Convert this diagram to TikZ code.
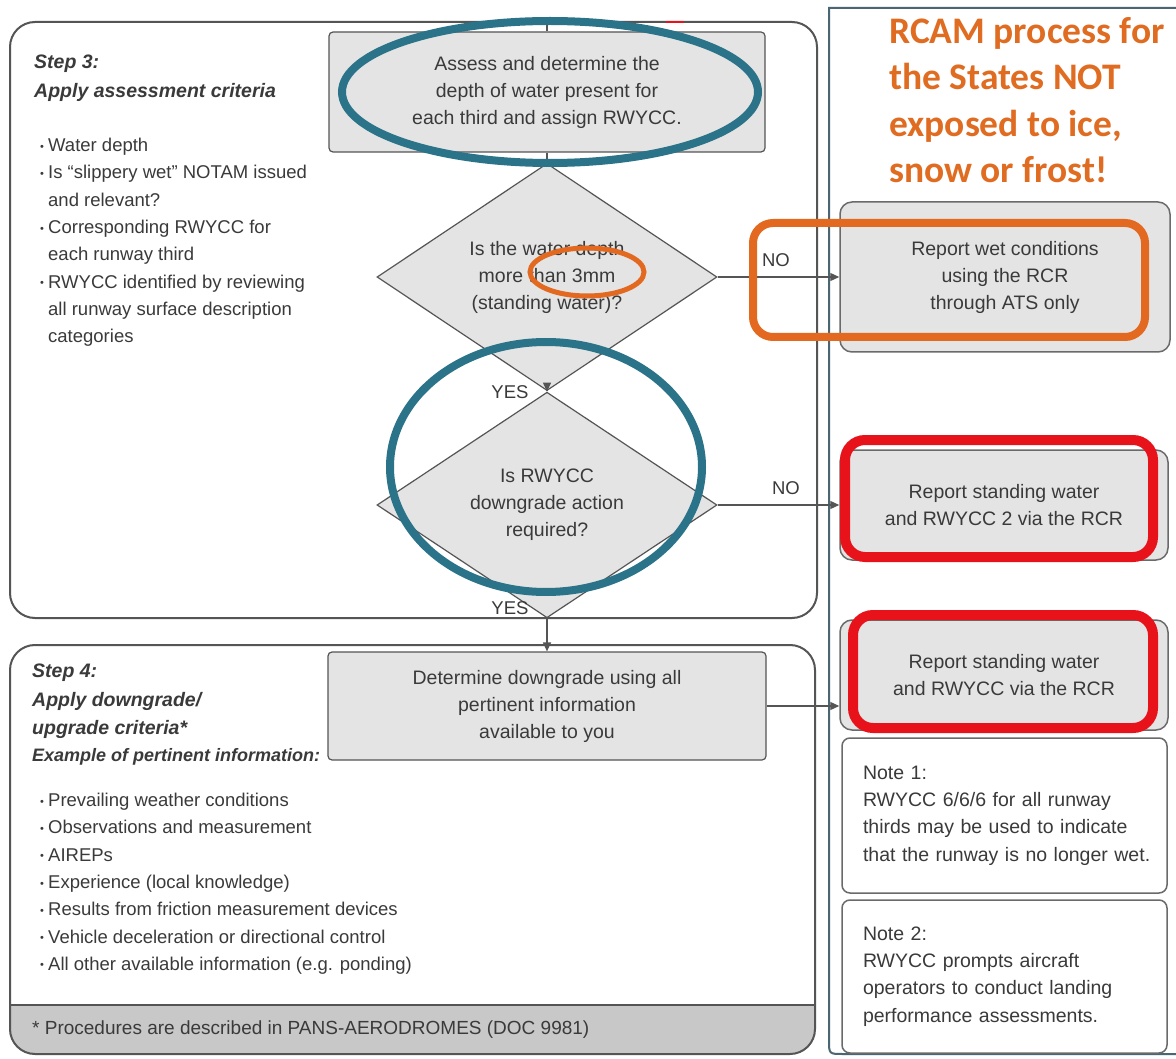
\documentclass[tikz,border=0pt]{standalone}
\usepackage{fontspec}
\usepackage{graphicx}
\setmainfont{Liberation Sans}
\newfontfamily\calfont{Carlito}
\usetikzlibrary{shapes.geometric,arrows.meta}

\definecolor{ink}{HTML}{3A3A3A}
\definecolor{boxfill}{HTML}{E4E4E4}
\definecolor{boxline}{HTML}{555555}
\definecolor{panelline}{HTML}{6A6A6A}
\definecolor{footgray}{HTML}{C8C8C8}
\definecolor{tealmark}{HTML}{2A7388}
\definecolor{orangemark}{HTML}{E2691F}
\definecolor{redmark}{HTML}{E8121B}
\definecolor{framecol}{HTML}{4A6672}
\definecolor{rcamorange}{HTML}{E06C22}

\newcommand\fsz[2]{\fontsize{#1}{#2}\selectfont}
\newcommand\bul{\makebox[7pt][l]{\hspace*{-1pt}\raisebox{1.5pt}{\fontsize{11}{11}\selectfont\textbullet}}}
\newcommand\ind{\hspace*{7pt}}

\begin{document}
\begin{tikzpicture}[x=1pt,y=-1pt,
  proc/.style={draw=boxline, fill=boxfill, line width=1.2pt, rounded corners=4pt,
    text=ink, font=\fsz{19.5}{27}, align=center, inner sep=0pt},
  decision/.style={diamond, draw=boxline, fill=boxfill, line width=1.2pt, text=ink,
    font=\fsz{19.5}{27}, align=center, minimum width=340pt, minimum height=210pt, inner sep=0pt},
  report/.style={draw=panelline, fill=boxfill, line width=1.5pt, rounded corners=12pt,
    text=ink, font=\fsz{19.5}{27}, align=center, minimum width=328pt, inner sep=0pt},
  notebox/.style={draw=panelline, fill=white, line width=1.5pt, rounded corners=8pt,
    text=ink, font=\fsz{19.5}{27.3}, align=left, text width=283pt, inner xsep=21pt, inner ysep=0pt},
  stepbox/.style={draw=boxline, line width=2pt, rounded corners=25pt},
  heading/.style={text=ink, font=\fsz{19.5}{28.5}\bfseries\itshape, align=left, inner sep=0pt, anchor=north west},
  listtext/.style={text=ink, font=\fsz{18.5}{27.3}, align=left, inner sep=0pt, anchor=north west},
  answer/.style={text=ink, font=\fsz{18.5}{20}, inner sep=0pt},
  flow/.style={draw=boxline, line width=1.2pt},
  flowarrow/.style={flow, -{Triangle[length=9pt,width=8pt]}},
  tealring/.style={draw=tealmark, line width=8pt},
  redring/.style={draw=redmark, line width=10pt, rounded corners=20pt},
]
\useasboundingbox (0,0) rectangle (1176,1059);
\fill[white] (0,0) rectangle (1176,1059);

% ---------- right-hand panel frame ----------
\draw[framecol, line width=2pt] (1180,8) -- (829,8) -- (829,1040)
  .. controls (829,1054) .. (843,1054) -- (1180,1054);

% ---------- Step 3 frame ----------
\draw[stepbox] (10,22) rectangle (817,618);
\draw[redmark, line width=2.5pt] (666,22) -- (684,22);

% ---------- Step 4 frame with footer band ----------
\path[fill=footgray] (10,1005) -- (815,1005) {[rounded corners=25pt] -- (815,1054) -- (10,1054)} -- cycle;
\draw[boxline, line width=2pt] (10,1005) -- (815,1005);
\draw[stepbox] (10,645) rectangle (815,1054);

% ---------- Step 3 texts ----------
\node[heading] (s3head) at (34,55) {Step 3:\\Apply assessment criteria};
\node[listtext] (s3list) at (41,138) {\bul Water depth\\
\bul Is “slippery wet” NOTAM issued\\
\ind and relevant?\\
\bul Corresponding RWYCC for\\
\ind each runway third\\
\bul RWYCC identified by reviewing\\
\ind all runway surface description\\
\ind categories};

% ---------- Step 4 texts ----------
\node[heading] (s4head) at (32,664) {Step 4:\\Apply downgrade/\\upgrade criteria*};
\node[heading, font=\fsz{18}{27}\bfseries\itshape] (s4ex) at (32,748) {Example of pertinent information:};
\node[listtext] (s4list) at (41,793) {\bul Prevailing weather conditions\\
\bul Observations and measurement\\
\bul AIREPs\\
\bul Experience (local knowledge)\\
\bul Results from friction measurement devices\\
\bul Vehicle deceleration or directional control\\
\bul All other available information (e.g. ponding)};
\node[text=ink, font=\fsz{19}{22}, anchor=west, inner sep=0pt] (footnote) at (32,1030)
  {* Procedures are described in PANS-AERODROMES (DOC 9981)};

% ---------- flow chart ----------
\coordinate (s3entry) at (547,22);
\node[proc, minimum width=436pt, minimum height=120pt] (assess) at (547,92)
  {Assess and determine the\\depth of water present for\\each third and assign RWYCC.};
\node[decision] (depthq) at (547,277)
  {Is the water depth\\more than 3mm\\(standing water)?};
\node[decision] (downq) at (547,505)
  {Is RWYCC\\downgrade action\\required?};
\node[proc, minimum width=438pt, minimum height=108pt] (determine) at (547,706)
  {Determine downgrade using all\\pertinent information\\available to you};

\node[report, minimum width=330pt, minimum height=150pt] (wet) at (1005,277)
  {Report wet conditions\\using the RCR\\through ATS only};
\node[report, minimum height=110pt] (standing2) at (1004,505)
  {Report standing water\\and RWYCC 2 via the RCR};
\node[report, minimum height=110pt] (standing) at (1004,675)
  {Report standing water\\and RWYCC via the RCR};
\node[notebox, minimum height=155pt] (note1) at (1004.5,815.5)
  {Note 1:\\RWYCC 6/6/6 for all runway\\thirds may be used to indicate\\\mbox{that the runway is no longer wet.}};
\node[notebox, minimum height=153pt] (note2) at (1004.5,976.5)
  {Note 2:\\RWYCC prompts aircraft\\operators to conduct landing\\performance assessments.};

\node[text=rcamorange, font=\calfont\fsz{37.5}{46.5}\bfseries, align=left, inner sep=0pt, anchor=north west]
  (rcam) at (889,17) {RCAM process for\\the States NOT\\exposed to ice,\\snow or frost!};

% connectors
\draw[flow] (s3entry) -- (assess.north);
\draw[flow] (assess.south) -- (depthq.north);
\draw[flowarrow] (depthq.south) -- (downq.north);
\draw[flowarrow] (downq.south) -- (determine.north);
\draw[flowarrow] (depthq.east) -- (wet.west);
\draw[flowarrow] (downq.east) -- (standing2.west);
\draw[flowarrow] (determine.east) -- (determine.east -| standing.west);

\node[answer] (no1) at (776,260) {NO};
\node[answer] (no2) at (786,488) {NO};
\node[answer] (yes1) at (510,392) {YES};
\node[answer] (yes2) at (510,608) {YES};

% ---------- highlight marks ----------
\draw[tealring] (550,92) ellipse [x radius=208, y radius=71];
\draw[tealring] (546,467) ellipse [x radius=156, y radius=125];
\draw[draw=orangemark, line width=5pt] (587,272) ellipse [x radius=57, y radius=24];
\draw[draw=orangemark, line width=8pt, rounded corners=20pt] (753,223) rectangle (1145,337);
\draw[redring] (845,440) rectangle (1153,557);
\draw[redring] (853,615) rectangle (1153,728);
\end{tikzpicture}
\end{document}
